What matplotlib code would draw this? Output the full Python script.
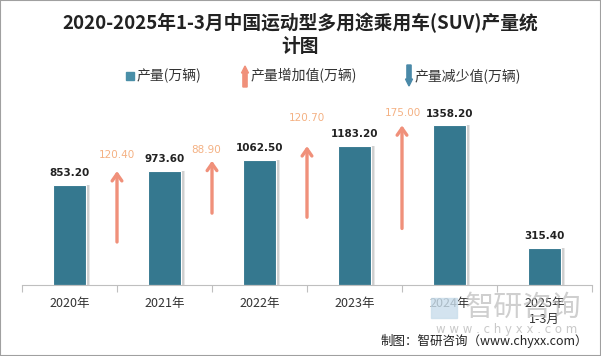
import matplotlib.pyplot as plt
import numpy as np
from matplotlib.patches import Rectangle, FancyArrow

plt.rcParams['font.family'] = ['Noto Sans CJK SC', 'DejaVu Sans']

# data
years = ['2020年', '2021年', '2022年', '2023年', '2024年', '2025年\n1-3月']
output = [853.2, 973.6, 1062.5, 1183.2, 1358.2, 315.4]
increase = [120.4, 88.9, 120.7, 175.0]
arrow_base = [73, 122, 115, 96]  # where each arrow starts on the right-hand scale

BAR = '#35788F'
UP = '#F0907A'
UP_TXT = '#F4B183'
DOWN = '#4A89A8'

fig = plt.figure(figsize=(6.01, 3.56), dpi=100)
ax = fig.add_axes([22 / 601, 71 / 356, 570 / 601, 185 / 356])
ax2 = ax.twinx()

x = np.arange(len(years)) + 0.5
# soft shadow on the right of each bar, then the bar itself
ax.bar(x + 0.03, output, width=0.35, color='#A8A8A8', alpha=0.55, zorder=1)
ax.bar(x + 0.045, output, width=0.35, color='#D0D0D0', alpha=0.5, zorder=1)
ax.bar(x, output, width=0.35, color=BAR, edgecolor='white', linewidth=0.8, zorder=2)
for xi, v in zip(x, output):
    ax.annotate(f'{v:.2f}', (xi, v), xytext=(0, 5), textcoords='offset points',
                ha='center', va='bottom', fontsize=7.5, fontweight='bold',
                color='#222222', family='DejaVu Sans')

ax.set_xlim(0, len(years))
ax.set_ylim(0, 1575)
ax2.set_ylim(0, 314)

# arrows sit on the borders between years
lbl_off = [(0, 8), (-4, 4), (0, 17), (1, 5)]
for i, (d, b) in enumerate(zip(increase, arrow_base)):
    xa = i + 1
    ax2.annotate('', xy=(xa, b + d), xytext=(xa, b),
                 arrowprops=dict(arrowstyle='->,head_width=0.35,head_length=0.5',
                                 lw=2.4, color=UP, shrinkA=0, shrinkB=0))
    ax2.annotate(f'{d:.2f}', (xa, b + d), xytext=lbl_off[i], textcoords='offset points',
                 ha='center', va='bottom', fontsize=7.5, color=UP_TXT, family='DejaVu Sans')

for a in (ax, ax2):
    for s in ('top', 'left', 'right'):
        a.spines[s].set_visible(False)
    a.set_yticks([])
ax2.spines['bottom'].set_visible(False)
ax.spines['bottom'].set_color('#BFBFBF')

ax.set_xticks(np.arange(len(years) + 1))
ax.set_xticklabels([])
ax.tick_params(axis='x', which='major', length=5, color='#BFBFBF')
ax.set_xticks(x, minor=True)
ax.set_xticklabels(years, minor=True, fontsize=9, color='#333333')
ax.tick_params(axis='x', which='minor', length=0, pad=9)

# title
fig.text(0.5, 1 - 23 / 356, '2020-2025年1-3月中国运动型多用途乘用车(SUV)产量统',
         ha='center', va='center', fontsize=13.5, fontweight='bold', color='#222222')
fig.text(0.5, 1 - 46 / 356, '计图', ha='center', va='center', fontsize=13.5,
         fontweight='bold', color='#222222')

# legend drawn by hand
ly = 1 - 76 / 356
fig.patches.append(Rectangle((126 / 601, ly - 4 / 356), 8 / 601, 8 / 356,
                             transform=fig.transFigure, color='#4A8FA8'))
fig.text(137 / 601, ly, '产量(万辆)', ha='left', va='center', fontsize=10, color='#333333')
fig.patches.append(FancyArrow(245 / 601, ly - 11 / 356, 0, 21 / 356, width=2.5 / 356,
                              head_width=7 / 601, head_length=7 / 356,
                              length_includes_head=True, transform=fig.transFigure, color=UP))
fig.text(251 / 601, ly, '产量增加值(万辆)', ha='left', va='center', fontsize=10, color='#333333')
fig.patches.append(FancyArrow(409 / 601, ly + 11 / 356, 0, -21 / 356, width=2.5 / 356,
                              head_width=7 / 601, head_length=7 / 356,
                              length_includes_head=True, transform=fig.transFigure, color=DOWN))
fig.text(415 / 601, ly, '产量减少值(万辆)', ha='left', va='center', fontsize=10, color='#333333')

# watermark
fig.patches.append(Rectangle((431 / 601, 1 - 318 / 356), 26 / 601, 20 / 356,
                             transform=fig.transFigure, color='#C9DDEB', alpha=0.8))
fig.text(523 / 601, 1 - 308 / 356, '智研咨询', ha='center', va='center', fontsize=21,
         color='#BBBBBB', alpha=0.7)
fig.text(507 / 601, 1 - 329 / 356, 'w w w . c h y x x . c o m', ha='center', va='center',
         fontsize=8.5, color='#BBBBBB', alpha=0.8, family='DejaVu Sans')

fig.text(588 / 601, 1 - 341 / 356, '制图：智研咨询（www.chyxx.com）', ha='right', va='center',
         fontsize=9, color='#222222')

fig.patches.append(Rectangle((0, 0), 1, 1, transform=fig.transFigure, fill=False,
                             edgecolor='#A0A0A0', linewidth=1.5))

fig.savefig('out.png', dpi=100)
